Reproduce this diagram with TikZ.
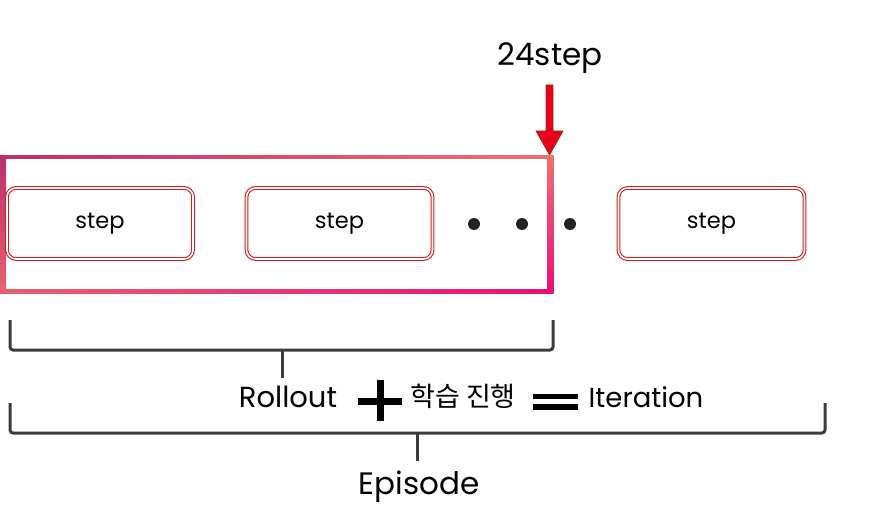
\documentclass[tikz,border=0pt]{standalone}
\usepackage{fontspec}
\setmainfont{Poppins}
\newfontfamily\kr{Noto Sans CJK KR}
\definecolor{framepurple}{HTML}{B8306E}
\definecolor{framesalmon}{HTML}{F07070}
\definecolor{framepink}{HTML}{E86070}
\definecolor{framemagenta}{HTML}{E8107A}
\definecolor{boxred}{HTML}{E01818}
\definecolor{arrowred}{HTML}{E8001A}
\definecolor{arrowedge}{HTML}{8B3A1A}
\definecolor{bracketgray}{HTML}{3C3C3C}
\definecolor{dotgray}{HTML}{222222}
\tikzset{
  stepbox/.style={draw=boxred, double=white, line width=1.1pt, double distance=1.6pt,
    rounded corners=9pt, minimum width=186pt, minimum height=71pt, inner sep=0pt,
    font=\fontsize{22.5}{26}\selectfont},
  bracket/.style={draw=bracketgray, line width=3pt, rounded corners=3pt},
  stem/.style={draw=bracketgray, line width=3pt},
  label/.style={inner sep=0pt, font=\fontsize{29}{34}\selectfont},
  dotmark/.style={circle, fill=dotgray, minimum size=12pt, inner sep=0pt},
}
\begin{document}
\begin{tikzpicture}[x=1pt,y=-1pt]
\useasboundingbox (0,0) rectangle (886,532);
% gradient frame
\shade[left color=framepurple, right color=framesalmon] (0,155.5) rectangle (553,158.5);
\shade[top color=framepurple, bottom color=framepink] (0,155.5) rectangle (6,293);
\shade[left color=framepink, right color=framemagenta] (0,289.5) rectangle (553,293);
\shade[top color=framesalmon, bottom color=framemagenta] (547.5,155.5) rectangle (553.5,293);
% step boxes
\node[stepbox] (s1) at (100,223.5) {step};
\node[stepbox] (s2) at (339.5,223.5) {step};
\node[stepbox] (s4) at (711.5,223.5) {step};
% dots
\node[dotmark] (d1) at (474,224) {};
\node[dotmark] (d2) at (522,224) {};
\node[dotmark] (d3) at (570,224) {};
% arrow
\node[inner sep=0pt, font=\fontsize{31}{36}\selectfont] (top) at (550,58) {24step};
\fill[arrowred, draw=arrowedge, line width=0.8pt, line join=round]
  (546,85) -- (553,85) -- (553,131) -- (563,131) -- (549.5,155) -- (536,131) -- (546,131) -- cycle;
% Rollout bracket
\draw[bracket] (10,320) -- (10,350) -- (553,350) -- (553,320);
\coordinate (rstem) at (282,350);
\node[label] (roll) at (288,397) {Rollout};
\draw[stem] (rstem) -- (282,378);
% equation
\draw[line width=7pt] (358,401) -- (402,401);
\draw[line width=7pt] (380,380) -- (380,421);
\node[label, font=\kr\fontsize{27}{32}\selectfont] (learn) at (463,396) {학습 진행};
\draw[line width=5.5pt] (533,396.5) -- (578,396.5);
\draw[line width=5.5pt] (533,407) -- (578,407);
\node[label, font=\fontsize{27.5}{32}\selectfont] (iter) at (646,397) {Iteration};
% Episode bracket
\draw[bracket] (10,403) -- (10,433) -- (825,433) -- (825,403);
\coordinate (estem) at (417,433);
\node[label, font=\fontsize{31}{36}\selectfont] (epi) at (419,487) {Episode};
\draw[stem] (estem) -- (417,461);
\end{tikzpicture}
\end{document}
